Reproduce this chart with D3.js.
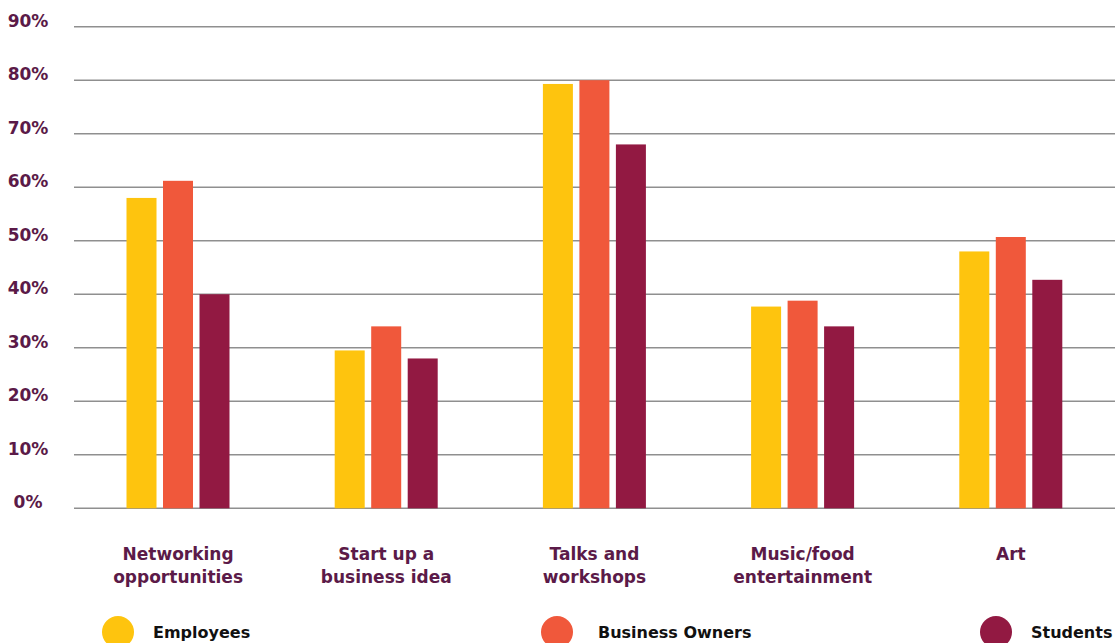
<!DOCTYPE html>
<html>
<head>
<meta charset="utf-8">
<script src="https://cdn.jsdelivr.net/npm/d3@7"></script>
<style>
  html, body { margin: 0; padding: 0; background: #fff; }
  svg { display: block; }
  text { font-family: "DejaVu Sans", sans-serif; font-weight: bold; }
</style>
</head>
<body>
<svg id="chart" width="1115" height="643"></svg>
<script>
// Categories (two-line labels) and survey shares per group, in percent
const categories = [
  ["Networking", "opportunities"],
  ["Start up a", "business idea"],
  ["Talks and", "workshops"],
  ["Music/food", "entertainment"],
  ["Art"]
];
const seriesNames = ["Employees", "Business Owners", "Students"];
const employees      = [58, 29.5, 79.3, 37.7, 48];
const businessOwners = [61.2, 34, 80, 38.8, 50.7];
const students       = [40, 28, 68, 34, 42.7];
const tickValues = [0, 10, 20, 30, 40, 50, 60, 70, 80, 90];
const colors = ["#FEC40E", "#F0583B", "#921942"];

const values = [employees, businessOwners, students];
const svg = d3.select("#chart");

const plotLeft = 74, plotRight = 1115, plotTop = 26.7, plotBottom = 508.3;

const y = d3.scaleLinear().domain([0, 90]).range([plotBottom, plotTop]);
const x0 = d3.scaleBand().domain(d3.range(categories.length)).range([plotLeft, plotRight]).padding(0);
const x1 = d3.scaleBand().domain(d3.range(seriesNames.length))
  .range([52.5, 155.5]).paddingInner(0.178).paddingOuter(0);

// Gridlines
svg.append("g")
  .selectAll("line")
  .data(tickValues)
  .join("line")
  .attr("x1", plotLeft).attr("x2", plotRight)
  .attr("y1", d => y(d)).attr("y2", d => y(d))
  .attr("stroke", "#8f8f8f")
  .attr("stroke-width", 1.4);

// Y tick labels
svg.append("g")
  .selectAll("text")
  .data(tickValues)
  .join("text")
  .attr("x", 28)
  .attr("y", d => y(d))
  .attr("text-anchor", "middle")
  .attr("font-size", 17)
  .attr("fill", "#5B1A48")
  .text(d => d + "%");

// Bars
const groups = svg.append("g")
  .selectAll("g")
  .data(categories.map((c, i) => i))
  .join("g")
  .attr("transform", i => `translate(${x0(i)},0)`);

groups.selectAll("rect")
  .data(i => values.map((s, k) => ({ k, v: s[i] })))
  .join("rect")
  .attr("x", d => x1(d.k))
  .attr("width", x1.bandwidth())
  .attr("y", d => y(d.v))
  .attr("height", d => y(0) - y(d.v))
  .attr("fill", d => colors[d.k]);

// Category labels
svg.append("g")
  .selectAll("text")
  .data(categories)
  .join("text")
  .attr("x", (d, i) => x0(i) + x0.bandwidth() / 2)
  .attr("y", 560)
  .attr("text-anchor", "middle")
  .attr("font-size", 17)
  .attr("fill", "#5B1A48")
  .selectAll("tspan")
  .data(d => d)
  .join("tspan")
  .attr("x", function () { return this.parentNode.getAttribute("x"); })
  .attr("dy", (d, j) => j === 0 ? 0 : 22.5)
  .text(d => d);

// Legend: swatch centres and label starts along the bottom edge
const legendCx = [118, 557, 996];
const legendTx = [153, 598, 1031];
const legend = svg.append("g")
  .selectAll("g")
  .data(seriesNames)
  .join("g");
legend.append("circle")
  .attr("cx", (d, i) => legendCx[i]).attr("cy", 632)
  .attr("r", 16).attr("fill", (d, i) => colors[i]);
legend.append("text")
  .attr("x", (d, i) => legendTx[i]).attr("y", 638)
  .attr("font-size", 16)
  .attr("fill", "#111")
  .text(d => d);
</script>
</body>
</html>
